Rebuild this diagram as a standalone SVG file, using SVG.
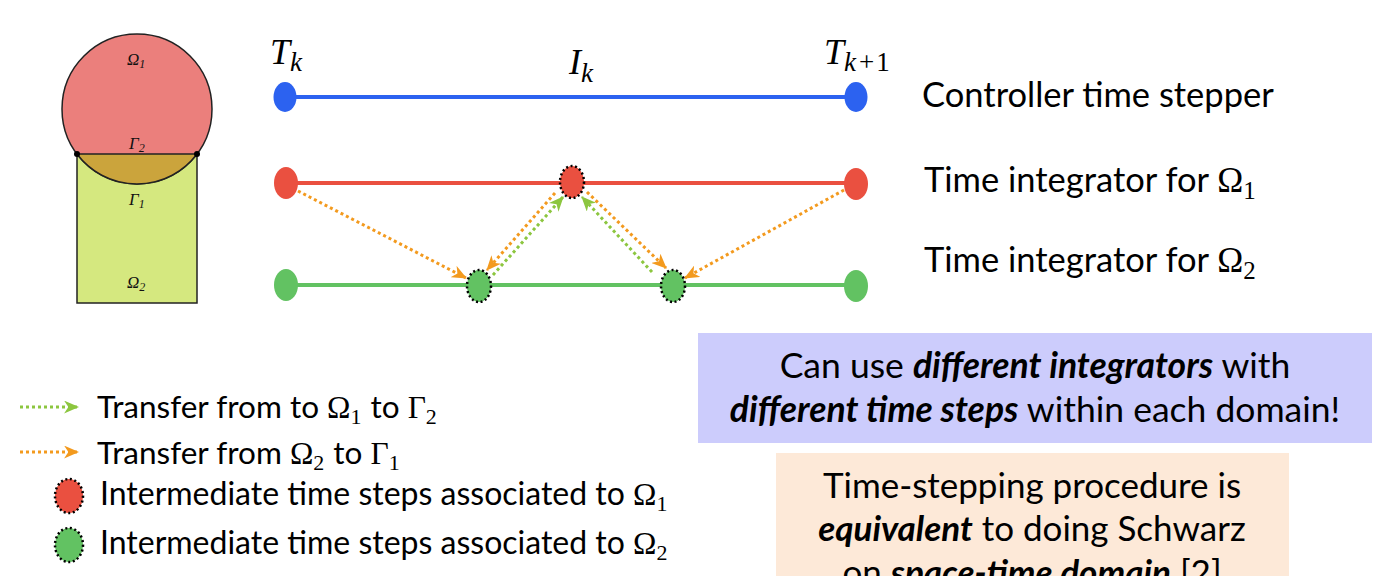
<svg xmlns="http://www.w3.org/2000/svg" width="1383" height="576" viewBox="0 0 1383 576">
<style>
.sans{font-family:Lato,"Open Sans","Liberation Sans",sans-serif;fill:#000}
.math{font-family:"Liberation Serif","DejaVu Serif",serif;font-style:italic;fill:#000}
.mathup{font-family:"Liberation Serif","DejaVu Serif",serif;font-style:normal;fill:#000}
.fig{font-family:"Liberation Serif",serif;font-style:italic;font-size:17px;fill:#111}
.or{fill:none;stroke:#f39a1e;stroke-width:3;stroke-dasharray:3 3}
.gr{fill:none;stroke:#8cc63f;stroke-width:3;stroke-dasharray:3 3}
.dotout{stroke:#000;stroke-width:2.5;stroke-dasharray:2 2.6}
.bi{font-weight:bold;font-style:italic}
</style>
<defs>
<marker id="ah-or" viewBox="0 0 14 12" refX="13" refY="6" markerWidth="15" markerHeight="13" markerUnits="userSpaceOnUse" orient="auto">
<path d="M0,0 L14,6 L0,12 L4,6 z" fill="#f39a1e"/>
</marker>
<marker id="ah-gr" viewBox="0 0 14 12" refX="13" refY="6" markerWidth="15" markerHeight="13" markerUnits="userSpaceOnUse" orient="auto">
<path d="M0,0 L14,6 L0,12 L4,6 z" fill="#8cc63f"/>
</marker>
</defs>
<rect width="1383" height="576" fill="#fff"/>

<g id="domain-figure">
<rect x="77" y="154" width="120" height="149" fill="#d5e87f" stroke="#222" stroke-width="1.5"/>
<circle cx="137" cy="109" r="75" fill="#eb7f7c" stroke="#222" stroke-width="1.5"/>
<path d="M77,154 A75,75 0 0 0 197,154 Z" fill="#cba43c" stroke="#222" stroke-width="1.5"/>
<circle cx="77" cy="154" r="3" fill="#000"/>
<circle cx="197" cy="154" r="3" fill="#000"/>
<text class="fig" x="127" y="65">Ω<tspan font-size="12" dy="3">1</tspan></text>
<text class="fig" x="129" y="149">Γ<tspan font-size="12" dy="3">2</tspan></text>
<text class="fig" x="129" y="205">Γ<tspan font-size="12" dy="3">1</tspan></text>
<text class="fig" x="127" y="288">Ω<tspan font-size="12" dy="3">2</tspan></text>
</g>

<g id="timeline-labels">
<text class="math" x="270" y="64" font-size="36">T<tspan font-size="27" dy="7">k</tspan></text>
<text class="math" x="569" y="74" font-size="36">I<tspan font-size="27" dy="8">k</tspan></text>
<text class="math" x="824" y="64" font-size="36">T<tspan font-size="27" dy="7">k</tspan><tspan class="mathup" font-size="27" dx="3">+</tspan><tspan class="mathup" font-size="27" dx="2">1</tspan></text>
</g>

<g id="connectors">
<line x1="285" y1="97" x2="856" y2="97" stroke="#2c62f0" stroke-width="4"/>
<line x1="285" y1="183" x2="856" y2="183" stroke="#ea5040" stroke-width="4"/>
<line x1="285" y1="285" x2="856" y2="285" stroke="#62c262" stroke-width="4"/>
<line class="or" x1="298" y1="191" x2="466" y2="278" marker-end="url(#ah-or)"/>
<line class="or" x1="555" y1="193" x2="487" y2="270" marker-end="url(#ah-or)"/>
<line class="gr" x1="493" y1="275" x2="563" y2="197" marker-end="url(#ah-gr)"/>
<line class="or" x1="587" y1="192" x2="666" y2="268" marker-end="url(#ah-or)"/>
<line class="gr" x1="652" y1="272" x2="582" y2="197" marker-end="url(#ah-gr)"/>
<line class="or" x1="844" y1="190" x2="685" y2="278" marker-end="url(#ah-or)"/>
</g>

<g id="node-blue-start"><ellipse cx="285" cy="97" rx="11.5" ry="15" fill="#2c62f0"/></g>
<g id="node-blue-end"><ellipse cx="856" cy="97" rx="11.5" ry="15" fill="#2c62f0"/></g>
<g id="node-red-start"><ellipse cx="286" cy="183" rx="12" ry="16" fill="#ea5040"/></g>
<g id="node-red-mid"><ellipse class="dotout" cx="572" cy="182" rx="12" ry="16" fill="#ea5040"/></g>
<g id="node-red-end"><ellipse cx="856" cy="184" rx="12" ry="16" fill="#ea5040"/></g>
<g id="node-green-start"><ellipse cx="286" cy="285" rx="12" ry="16" fill="#62c262"/></g>
<g id="node-green-mid1"><ellipse class="dotout" cx="479" cy="286" rx="12" ry="16" fill="#62c262"/></g>
<g id="node-green-mid2"><ellipse class="dotout" cx="673" cy="286" rx="12" ry="16" fill="#62c262"/></g>
<g id="node-green-end"><ellipse cx="856" cy="286" rx="12" ry="16" fill="#62c262"/></g>

<g id="row-labels">
<text class="sans" x="922" y="107" font-size="34.5">Controller time stepper</text>
<text class="sans" x="924" y="192" font-size="34.5">Time integrator for <tspan class="mathup" font-size="35">Ω</tspan><tspan class="mathup" font-size="25" dy="7">1</tspan></text>
<text class="sans" x="924" y="272" font-size="34.5">Time integrator for <tspan class="mathup" font-size="35">Ω</tspan><tspan class="mathup" font-size="25" dy="7">2</tspan></text>
</g>

<g id="legend">
<line class="gr" x1="20" y1="407" x2="78" y2="407" marker-end="url(#ah-gr)"/>
<text class="sans" x="97" y="418" font-size="31.5">Transfer from to <tspan class="mathup" font-size="31.5">Ω</tspan><tspan class="mathup" font-size="22" dy="6">1</tspan><tspan dy="-6" dx="9">to </tspan><tspan class="mathup" font-size="31.5">Γ</tspan><tspan class="mathup" font-size="22" dy="6">2</tspan></text>
<line class="or" x1="20" y1="452" x2="78" y2="452" marker-end="url(#ah-or)"/>
<text class="sans" x="97" y="464" font-size="31.5">Transfer from <tspan class="mathup" font-size="31.5">Ω</tspan><tspan class="mathup" font-size="22" dy="6">2</tspan><tspan dy="-6" dx="9">to </tspan><tspan class="mathup" font-size="31.5">Γ</tspan><tspan class="mathup" font-size="22" dy="6">1</tspan></text>
<ellipse class="dotout" cx="69" cy="496" rx="14" ry="17" fill="#ea5040"/>
<text class="sans" x="100" y="505" font-size="32">Intermediate time steps associated to <tspan class="mathup" font-size="31.5">Ω</tspan><tspan class="mathup" font-size="22" dy="6">1</tspan></text>
<ellipse class="dotout" cx="69" cy="545" rx="14" ry="17" fill="#62c262"/>
<text class="sans" x="100" y="554" font-size="32">Intermediate time steps associated to <tspan class="mathup" font-size="31.5">Ω</tspan><tspan class="mathup" font-size="22" dy="6">2</tspan></text>
</g>

<g id="box-integrators">
<rect x="698" y="333" width="674" height="110" fill="#ccccfc"/>
<text class="sans" x="1035" y="378" font-size="35.5" text-anchor="middle">Can use <tspan class="bi">different integrators</tspan> with</text>
<text class="sans" x="1035" y="422" font-size="35.5" text-anchor="middle"><tspan class="bi">different time steps</tspan> within each domain!</text>
</g>

<g id="box-schwarz">
<rect x="776" y="453" width="513" height="130" fill="#fde9d8"/>
<text class="sans" x="1032" y="498" font-size="35" text-anchor="middle">Time-stepping procedure is</text>
<text class="sans" x="1032" y="541" font-size="35" text-anchor="middle"><tspan class="bi">equivalent</tspan> to doing Schwarz</text>
<text class="sans" x="1032" y="585" font-size="35" text-anchor="middle">on <tspan class="bi">space-time domain</tspan> [2]</text>
</g>
</svg>
